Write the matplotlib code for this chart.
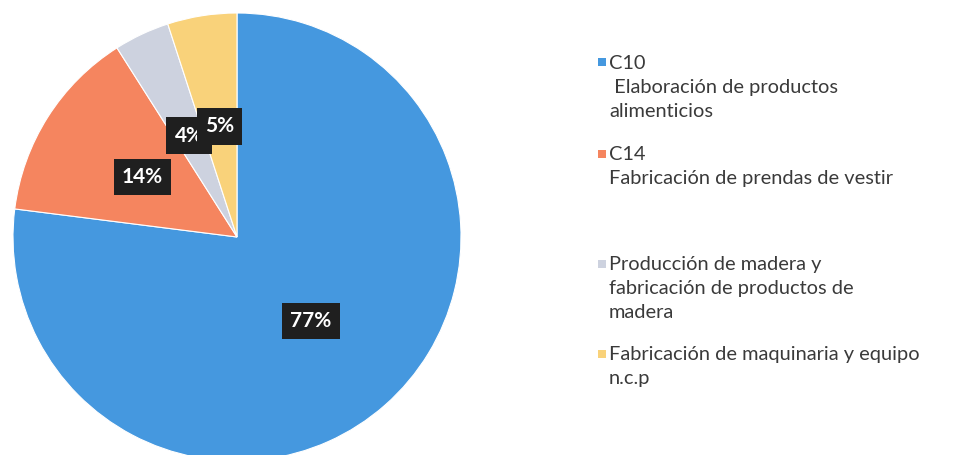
import matplotlib.pyplot as plt
from matplotlib.patches import Rectangle

plt.rcParams["font.family"] = ["Lato", "DejaVu Sans"]

# share of each manufacturing branch (percent)
labels = [
    "C10\n Elaboración de productos\nalimenticios",
    "C14\nFabricación de prendas de vestir",
    "Producción de madera y\nfabricación de productos de\nmadera",
    "Fabricación de maquinaria y equipo\nn.c.p",
]
shares = [77, 14, 4, 5]
colors = ["#4598DF", "#F5855F", "#CDD2DF", "#F9D27A"]

# top of each legend entry, in figure fraction
legend_tops = [0.880, 0.679, 0.438, 0.240]

fig = plt.figure(figsize=(9.66, 4.55), dpi=100)
ax = fig.add_axes([13 / 966, -6 / 455, 448 / 966, 448 / 455])

wedges, _, pcts = ax.pie(
    shares,
    colors=colors,
    startangle=90,
    counterclock=False,
    autopct=lambda p: f"{p:.0f}%",
    pctdistance=0.5,
    radius=1.0,
    wedgeprops=dict(edgecolor="white", linewidth=0.8),
)
for t in pcts:
    t.set_color("white")
    t.set_fontsize(15)
    t.set_fontweight("bold")
    t.set_bbox(dict(boxstyle="square,pad=0.4", facecolor="#1f1f1f", edgecolor="none"))
ax.set_xlim(-1, 1)
ax.set_ylim(-1, 1)
ax.set_aspect("equal")

for label, color, top in zip(labels, colors, legend_tops):
    fig.add_artist(Rectangle((598 / 966, top - 0.026), 8 / 966, 8 / 455,
                             transform=fig.transFigure, facecolor=color, edgecolor="none"))
    fig.text(609 / 966, top, label, ha="left", va="top", fontsize=14.4,
             color="#3a3a3a", linespacing=1.5)

fig.savefig("out.png", dpi=100)
